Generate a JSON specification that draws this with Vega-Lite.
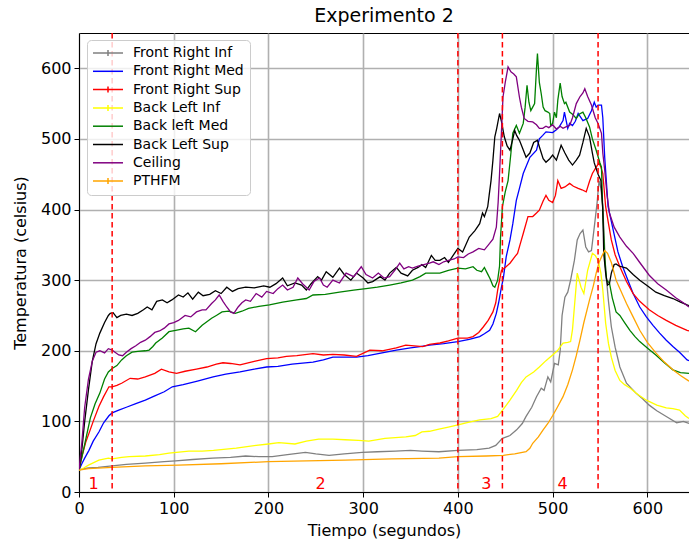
{
"$schema": "https://vega.github.io/schema/vega-lite/v6.json",
"width": 610, "height": 459,
"autosize": {"type": "none"},
"padding": {"left": 79, "top": 33, "right": 0, "bottom": 57},
"background": "white",
"title": {"text": "Experimento 2", "fontSize": 19, "font": "DejaVu Sans", "fontWeight": "normal", "color": "black", "offset": 6, "frame": "group", "anchor": "middle"},
"config": {
  "font": "DejaVu Sans",
  "view": {"stroke": "black", "strokeWidth": 1},
  "axis": {"labelFontSize": 16, "titleFontSize": 16, "titleFontWeight": "normal", "labelColor": "black", "titleColor": "black", "domainColor": "black", "tickColor": "black", "tickSize": 5, "labelPadding": 3, "gridColor": "#b0b0b0", "gridWidth": 1.6, "labelFlush": false, "labelOverlap": false, "titleFont": "DejaVu Sans", "labelFont": "DejaVu Sans"}
},
"layer": [
{
  "data": {"values": [
{"s":"Front Right Inf","t":0,"v":31},{"s":"Front Right Inf","t":5,"v":33},{"s":"Front Right Inf","t":10,"v":34},{"s":"Front Right Inf","t":20,"v":35},{"s":"Front Right Inf","t":35,"v":37},{"s":"Front Right Inf","t":50,"v":39},{"s":"Front Right Inf","t":70,"v":41},{"s":"Front Right Inf","t":90,"v":43},{"s":"Front Right Inf","t":102,"v":44},{"s":"Front Right Inf","t":120,"v":46},{"s":"Front Right Inf","t":141,"v":48},{"s":"Front Right Inf","t":160,"v":49},{"s":"Front Right Inf","t":176,"v":51},{"s":"Front Right Inf","t":190,"v":50},{"s":"Front Right Inf","t":204,"v":50},{"s":"Front Right Inf","t":220,"v":53},{"s":"Front Right Inf","t":239,"v":56},{"s":"Front Right Inf","t":250,"v":54},{"s":"Front Right Inf","t":264,"v":52},{"s":"Front Right Inf","t":280,"v":54},{"s":"Front Right Inf","t":299,"v":56},{"s":"Front Right Inf","t":315,"v":57},{"s":"Front Right Inf","t":334,"v":58},{"s":"Front Right Inf","t":350,"v":59},{"s":"Front Right Inf","t":362,"v":58},{"s":"Front Right Inf","t":380,"v":57},{"s":"Front Right Inf","t":400,"v":59},{"s":"Front Right Inf","t":420,"v":60},{"s":"Front Right Inf","t":433,"v":62},{"s":"Front Right Inf","t":440,"v":66},{"s":"Front Right Inf","t":447,"v":76},{"s":"Front Right Inf","t":455,"v":80},{"s":"Front Right Inf","t":462,"v":88},{"s":"Front Right Inf","t":468,"v":97},{"s":"Front Right Inf","t":472,"v":107},{"s":"Front Right Inf","t":478,"v":120},{"s":"Front Right Inf","t":483,"v":135},{"s":"Front Right Inf","t":488,"v":147},{"s":"Front Right Inf","t":491,"v":144},{"s":"Front Right Inf","t":495,"v":163},{"s":"Front Right Inf","t":498,"v":156},{"s":"Front Right Inf","t":502,"v":182},{"s":"Front Right Inf","t":506,"v":180},{"s":"Front Right Inf","t":508,"v":200},{"s":"Front Right Inf","t":510,"v":250},{"s":"Front Right Inf","t":513,"v":276},{"s":"Front Right Inf","t":516,"v":283},{"s":"Front Right Inf","t":519,"v":300},{"s":"Front Right Inf","t":523,"v":328},{"s":"Front Right Inf","t":526,"v":357},{"s":"Front Right Inf","t":529,"v":366},{"s":"Front Right Inf","t":532,"v":371},{"s":"Front Right Inf","t":535,"v":347},{"s":"Front Right Inf","t":538,"v":340},{"s":"Front Right Inf","t":541,"v":342},{"s":"Front Right Inf","t":544,"v":375},{"s":"Front Right Inf","t":547,"v":410},{"s":"Front Right Inf","t":549,"v":441},{"s":"Front Right Inf","t":551,"v":430},{"s":"Front Right Inf","t":553,"v":404},{"s":"Front Right Inf","t":556,"v":314},{"s":"Front Right Inf","t":559,"v":270},{"s":"Front Right Inf","t":562,"v":234},{"s":"Front Right Inf","t":566,"v":205},{"s":"Front Right Inf","t":571,"v":177},{"s":"Front Right Inf","t":578,"v":154},{"s":"Front Right Inf","t":588,"v":140},{"s":"Front Right Inf","t":595,"v":132},{"s":"Front Right Inf","t":602,"v":123},{"s":"Front Right Inf","t":610,"v":115},{"s":"Front Right Inf","t":620,"v":107},{"s":"Front Right Inf","t":631,"v":98},{"s":"Front Right Inf","t":638,"v":100},{"s":"Front Right Inf","t":644,"v":97},

{"s":"Front Right Med","t":0,"v":31},{"s":"Front Right Med","t":3,"v":40},{"s":"Front Right Med","t":6,"v":48},{"s":"Front Right Med","t":10.5,"v":59},{"s":"Front Right Med","t":15,"v":72},{"s":"Front Right Med","t":21,"v":85},{"s":"Front Right Med","t":26,"v":98},{"s":"Front Right Med","t":31.6,"v":108},{"s":"Front Right Med","t":35,"v":112},{"s":"Front Right Med","t":42,"v":116},{"s":"Front Right Med","t":50,"v":120},{"s":"Front Right Med","t":60,"v":125},{"s":"Front Right Med","t":70,"v":130},{"s":"Front Right Med","t":80,"v":136},{"s":"Front Right Med","t":90,"v":142},{"s":"Front Right Med","t":98.5,"v":149},{"s":"Front Right Med","t":110,"v":152},{"s":"Front Right Med","t":125,"v":157},{"s":"Front Right Med","t":141.6,"v":163},{"s":"Front Right Med","t":155,"v":167},{"s":"Front Right Med","t":170,"v":170},{"s":"Front Right Med","t":185,"v":174},{"s":"Front Right Med","t":198,"v":177},{"s":"Front Right Med","t":210,"v":178},{"s":"Front Right Med","t":225,"v":181},{"s":"Front Right Med","t":247,"v":184},{"s":"Front Right Med","t":258,"v":187},{"s":"Front Right Med","t":268,"v":191},{"s":"Front Right Med","t":280,"v":191},{"s":"Front Right Med","t":293,"v":191},{"s":"Front Right Med","t":305,"v":193},{"s":"Front Right Med","t":320,"v":197},{"s":"Front Right Med","t":335,"v":201},{"s":"Front Right Med","t":350,"v":204},{"s":"Front Right Med","t":360,"v":206},{"s":"Front Right Med","t":370,"v":208},{"s":"Front Right Med","t":385,"v":210},{"s":"Front Right Med","t":400,"v":213},{"s":"Front Right Med","t":412,"v":216},{"s":"Front Right Med","t":423,"v":220},{"s":"Front Right Med","t":428,"v":224},{"s":"Front Right Med","t":433.5,"v":229},{"s":"Front Right Med","t":437,"v":238},{"s":"Front Right Med","t":440.6,"v":253},{"s":"Front Right Med","t":443,"v":268},{"s":"Front Right Med","t":446,"v":290},{"s":"Front Right Med","t":448,"v":303},{"s":"Front Right Med","t":451,"v":333},{"s":"Front Right Med","t":455,"v":357},{"s":"Front Right Med","t":458,"v":380},{"s":"Front Right Med","t":461.7,"v":413},{"s":"Front Right Med","t":465,"v":430},{"s":"Front Right Med","t":469,"v":451},{"s":"Front Right Med","t":476,"v":474},{"s":"Front Right Med","t":483,"v":484},{"s":"Front Right Med","t":486,"v":500},{"s":"Front Right Med","t":489.6,"v":505},{"s":"Front Right Med","t":493,"v":510},{"s":"Front Right Med","t":500,"v":509},{"s":"Front Right Med","t":504,"v":513},{"s":"Front Right Med","t":507,"v":517},{"s":"Front Right Med","t":511,"v":526},{"s":"Front Right Med","t":512.5,"v":538},{"s":"Front Right Med","t":516,"v":515},{"s":"Front Right Med","t":518,"v":522},{"s":"Front Right Med","t":521,"v":519},{"s":"Front Right Med","t":524,"v":525},{"s":"Front Right Med","t":527,"v":536},{"s":"Front Right Med","t":532,"v":526},{"s":"Front Right Med","t":537,"v":529},{"s":"Front Right Med","t":541,"v":540},{"s":"Front Right Med","t":544,"v":552},{"s":"Front Right Med","t":546,"v":545},{"s":"Front Right Med","t":548,"v":548},{"s":"Front Right Med","t":551.6,"v":548},{"s":"Front Right Med","t":553,"v":530},{"s":"Front Right Med","t":555,"v":474},{"s":"Front Right Med","t":558.6,"v":404},{"s":"Front Right Med","t":564,"v":371},{"s":"Front Right Med","t":569,"v":340},{"s":"Front Right Med","t":574,"v":319},{"s":"Front Right Med","t":580,"v":298},{"s":"Front Right Med","t":585,"v":281},{"s":"Front Right Med","t":592,"v":262},{"s":"Front Right Med","t":599,"v":248},{"s":"Front Right Med","t":606,"v":236},{"s":"Front Right Med","t":613,"v":225},{"s":"Front Right Med","t":620,"v":215},{"s":"Front Right Med","t":627,"v":206},{"s":"Front Right Med","t":634,"v":198},{"s":"Front Right Med","t":642,"v":187},{"s":"Front Right Med","t":644,"v":186},

{"s":"Front Right Sup","t":0,"v":31},{"s":"Front Right Sup","t":3,"v":50},{"s":"Front Right Sup","t":7,"v":70},{"s":"Front Right Sup","t":10.5,"v":83},{"s":"Front Right Sup","t":15,"v":100},{"s":"Front Right Sup","t":21,"v":121},{"s":"Front Right Sup","t":26,"v":135},{"s":"Front Right Sup","t":31.6,"v":149},{"s":"Front Right Sup","t":35,"v":149},{"s":"Front Right Sup","t":40,"v":151},{"s":"Front Right Sup","t":45,"v":154},{"s":"Front Right Sup","t":54,"v":161},{"s":"Front Right Sup","t":62,"v":160},{"s":"Front Right Sup","t":70,"v":163},{"s":"Front Right Sup","t":80,"v":168},{"s":"Front Right Sup","t":87,"v":174},{"s":"Front Right Sup","t":95,"v":170},{"s":"Front Right Sup","t":103,"v":168},{"s":"Front Right Sup","t":112,"v":171},{"s":"Front Right Sup","t":124,"v":174},{"s":"Front Right Sup","t":135,"v":177},{"s":"Front Right Sup","t":145,"v":181},{"s":"Front Right Sup","t":152,"v":183},{"s":"Front Right Sup","t":160,"v":182},{"s":"Front Right Sup","t":170,"v":180},{"s":"Front Right Sup","t":185,"v":185},{"s":"Front Right Sup","t":198,"v":189},{"s":"Front Right Sup","t":210,"v":190},{"s":"Front Right Sup","t":219,"v":192},{"s":"Front Right Sup","t":230,"v":193},{"s":"Front Right Sup","t":247,"v":196},{"s":"Front Right Sup","t":258,"v":194},{"s":"Front Right Sup","t":268,"v":195},{"s":"Front Right Sup","t":280,"v":194},{"s":"Front Right Sup","t":293,"v":192},{"s":"Front Right Sup","t":307,"v":201},{"s":"Front Right Sup","t":320,"v":200},{"s":"Front Right Sup","t":335,"v":204},{"s":"Front Right Sup","t":345,"v":208},{"s":"Front Right Sup","t":363,"v":206},{"s":"Front Right Sup","t":370,"v":209},{"s":"Front Right Sup","t":381,"v":211},{"s":"Front Right Sup","t":390,"v":214},{"s":"Front Right Sup","t":400,"v":218},{"s":"Front Right Sup","t":410,"v":218},{"s":"Front Right Sup","t":416,"v":220},{"s":"Front Right Sup","t":422,"v":226},{"s":"Front Right Sup","t":427,"v":234},{"s":"Front Right Sup","t":432,"v":243},{"s":"Front Right Sup","t":437,"v":255},{"s":"Front Right Sup","t":440,"v":268},{"s":"Front Right Sup","t":442,"v":286},{"s":"Front Right Sup","t":444,"v":300},{"s":"Front Right Sup","t":446,"v":314},{"s":"Front Right Sup","t":450,"v":318},{"s":"Front Right Sup","t":455,"v":324},{"s":"Front Right Sup","t":460,"v":333},{"s":"Front Right Sup","t":463,"v":338},{"s":"Front Right Sup","t":466,"v":352},{"s":"Front Right Sup","t":469,"v":366},{"s":"Front Right Sup","t":474,"v":390},{"s":"Front Right Sup","t":479,"v":390},{"s":"Front Right Sup","t":483,"v":395},{"s":"Front Right Sup","t":486,"v":399},{"s":"Front Right Sup","t":490,"v":412},{"s":"Front Right Sup","t":493,"v":420},{"s":"Front Right Sup","t":496,"v":413},{"s":"Front Right Sup","t":500,"v":410},{"s":"Front Right Sup","t":503,"v":420},{"s":"Front Right Sup","t":505.5,"v":441},{"s":"Front Right Sup","t":509,"v":430},{"s":"Front Right Sup","t":513,"v":432},{"s":"Front Right Sup","t":518,"v":437},{"s":"Front Right Sup","t":522,"v":433},{"s":"Front Right Sup","t":527,"v":430},{"s":"Front Right Sup","t":531,"v":428},{"s":"Front Right Sup","t":535.5,"v":425},{"s":"Front Right Sup","t":539,"v":440},{"s":"Front Right Sup","t":542,"v":451},{"s":"Front Right Sup","t":546,"v":460},{"s":"Front Right Sup","t":549,"v":466},{"s":"Front Right Sup","t":551,"v":460},{"s":"Front Right Sup","t":553,"v":451},{"s":"Front Right Sup","t":556,"v":404},{"s":"Front Right Sup","t":559,"v":380},{"s":"Front Right Sup","t":562,"v":357},{"s":"Front Right Sup","t":566,"v":336},{"s":"Front Right Sup","t":571,"v":319},{"s":"Front Right Sup","t":578,"v":298},{"s":"Front Right Sup","t":585,"v":281},{"s":"Front Right Sup","t":592,"v":270},{"s":"Front Right Sup","t":602,"v":258},{"s":"Front Right Sup","t":611,"v":250},{"s":"Front Right Sup","t":620,"v":243},{"s":"Front Right Sup","t":630,"v":236},{"s":"Front Right Sup","t":642,"v":229},{"s":"Front Right Sup","t":644,"v":228},

{"s":"Back Left Inf","t":0,"v":31},{"s":"Back Left Inf","t":5,"v":34},{"s":"Back Left Inf","t":10,"v":38},{"s":"Back Left Inf","t":21,"v":45},{"s":"Back Left Inf","t":31,"v":48},{"s":"Back Left Inf","t":35,"v":47},{"s":"Back Left Inf","t":45,"v":49},{"s":"Back Left Inf","t":53,"v":50},{"s":"Back Left Inf","t":70,"v":51},{"s":"Back Left Inf","t":85,"v":53},{"s":"Back Left Inf","t":95,"v":55},{"s":"Back Left Inf","t":116,"v":58},{"s":"Back Left Inf","t":130,"v":58},{"s":"Back Left Inf","t":142,"v":59},{"s":"Back Left Inf","t":166,"v":62},{"s":"Back Left Inf","t":187,"v":66},{"s":"Back Left Inf","t":200,"v":68},{"s":"Back Left Inf","t":211,"v":70},{"s":"Back Left Inf","t":228,"v":68},{"s":"Back Left Inf","t":240,"v":72},{"s":"Back Left Inf","t":253,"v":75},{"s":"Back Left Inf","t":268,"v":75},{"s":"Back Left Inf","t":281,"v":74},{"s":"Back Left Inf","t":295,"v":73},{"s":"Back Left Inf","t":306,"v":72},{"s":"Back Left Inf","t":323,"v":76},{"s":"Back Left Inf","t":345,"v":78},{"s":"Back Left Inf","t":355,"v":80},{"s":"Back Left Inf","t":362,"v":85},{"s":"Back Left Inf","t":370,"v":86},{"s":"Back Left Inf","t":380,"v":89},{"s":"Back Left Inf","t":390,"v":92},{"s":"Back Left Inf","t":400,"v":95},{"s":"Back Left Inf","t":412,"v":99},{"s":"Back Left Inf","t":423,"v":102},{"s":"Back Left Inf","t":435,"v":104},{"s":"Back Left Inf","t":442,"v":107},{"s":"Back Left Inf","t":449,"v":119},{"s":"Back Left Inf","t":455,"v":130},{"s":"Back Left Inf","t":462,"v":144},{"s":"Back Left Inf","t":467,"v":155},{"s":"Back Left Inf","t":472,"v":163},{"s":"Back Left Inf","t":480,"v":170},{"s":"Back Left Inf","t":486,"v":177},{"s":"Back Left Inf","t":493,"v":186},{"s":"Back Left Inf","t":500,"v":194},{"s":"Back Left Inf","t":505,"v":200},{"s":"Back Left Inf","t":511,"v":211},{"s":"Back Left Inf","t":516,"v":212},{"s":"Back Left Inf","t":519,"v":213},{"s":"Back Left Inf","t":521,"v":230},{"s":"Back Left Inf","t":523,"v":262},{"s":"Back Left Inf","t":526,"v":310},{"s":"Back Left Inf","t":530,"v":290},{"s":"Back Left Inf","t":533,"v":281},{"s":"Back Left Inf","t":537,"v":314},{"s":"Back Left Inf","t":542,"v":338},{"s":"Back Left Inf","t":545,"v":335},{"s":"Back Left Inf","t":548,"v":328},{"s":"Back Left Inf","t":551,"v":310},{"s":"Back Left Inf","t":553,"v":286},{"s":"Back Left Inf","t":556,"v":239},{"s":"Back Left Inf","t":559,"v":210},{"s":"Back Left Inf","t":562,"v":191},{"s":"Back Left Inf","t":566,"v":172},{"s":"Back Left Inf","t":571,"v":158},{"s":"Back Left Inf","t":576,"v":152},{"s":"Back Left Inf","t":582,"v":147},{"s":"Back Left Inf","t":590,"v":138},{"s":"Back Left Inf","t":599,"v":130},{"s":"Back Left Inf","t":610,"v":123},{"s":"Back Left Inf","t":620,"v":119},{"s":"Back Left Inf","t":627,"v":118},{"s":"Back Left Inf","t":634,"v":116},{"s":"Back Left Inf","t":640,"v":108},{"s":"Back Left Inf","t":644,"v":104},

{"s":"Back left Med","t":0,"v":31},{"s":"Back left Med","t":4,"v":55},{"s":"Back left Med","t":8,"v":80},{"s":"Back left Med","t":12,"v":105},{"s":"Back left Med","t":17,"v":125},{"s":"Back left Med","t":22,"v":140},{"s":"Back left Med","t":27,"v":160},{"s":"Back left Med","t":31,"v":170},{"s":"Back left Med","t":35,"v":175},{"s":"Back left Med","t":40,"v":179},{"s":"Back left Med","t":45,"v":187},{"s":"Back left Med","t":50,"v":193},{"s":"Back left Med","t":56,"v":198},{"s":"Back left Med","t":62,"v":199},{"s":"Back left Med","t":70,"v":200},{"s":"Back left Med","t":74,"v":201},{"s":"Back left Med","t":78,"v":206},{"s":"Back left Med","t":81,"v":211},{"s":"Back left Med","t":88,"v":218},{"s":"Back left Med","t":95,"v":227},{"s":"Back left Med","t":102,"v":229},{"s":"Back left Med","t":110,"v":231},{"s":"Back left Med","t":116,"v":232},{"s":"Back left Med","t":123,"v":227},{"s":"Back left Med","t":130,"v":236},{"s":"Back left Med","t":140,"v":246},{"s":"Back left Med","t":145,"v":250},{"s":"Back left Med","t":151,"v":255},{"s":"Back left Med","t":158,"v":256},{"s":"Back left Med","t":165,"v":253},{"s":"Back left Med","t":172,"v":256},{"s":"Back left Med","t":179,"v":260},{"s":"Back left Med","t":190,"v":263},{"s":"Back left Med","t":201,"v":265},{"s":"Back left Med","t":215,"v":269},{"s":"Back left Med","t":230,"v":272},{"s":"Back left Med","t":240,"v":274},{"s":"Back left Med","t":247,"v":279},{"s":"Back left Med","t":260,"v":280},{"s":"Back left Med","t":275,"v":283},{"s":"Back left Med","t":290,"v":286},{"s":"Back left Med","t":303,"v":288},{"s":"Back left Med","t":315,"v":290},{"s":"Back left Med","t":328,"v":293},{"s":"Back left Med","t":340,"v":296},{"s":"Back left Med","t":352,"v":300},{"s":"Back left Med","t":360,"v":305},{"s":"Back left Med","t":366,"v":310},{"s":"Back left Med","t":375,"v":310},{"s":"Back left Med","t":381,"v":310},{"s":"Back left Med","t":390,"v":314},{"s":"Back left Med","t":400,"v":317},{"s":"Back left Med","t":408,"v":316},{"s":"Back left Med","t":416,"v":319},{"s":"Back left Med","t":420,"v":314},{"s":"Back left Med","t":425,"v":312},{"s":"Back left Med","t":428,"v":318},{"s":"Back left Med","t":431,"v":310},{"s":"Back left Med","t":434,"v":302},{"s":"Back left Med","t":437,"v":292},{"s":"Back left Med","t":439,"v":290},{"s":"Back left Med","t":442,"v":300},{"s":"Back left Med","t":444,"v":320},{"s":"Back left Med","t":445,"v":360},{"s":"Back left Med","t":447,"v":404},{"s":"Back left Med","t":450,"v":425},{"s":"Back left Med","t":453,"v":441},{"s":"Back left Med","t":456,"v":480},{"s":"Back left Med","t":458,"v":508},{"s":"Back left Med","t":461.7,"v":519},{"s":"Back left Med","t":465,"v":508},{"s":"Back left Med","t":469,"v":522},{"s":"Back left Med","t":471,"v":545},{"s":"Back left Med","t":473,"v":576},{"s":"Back left Med","t":475,"v":552},{"s":"Back left Med","t":477,"v":540},{"s":"Back left Med","t":479,"v":545},{"s":"Back left Med","t":481,"v":550},{"s":"Back left Med","t":483,"v":600},{"s":"Back left Med","t":484,"v":621},{"s":"Back left Med","t":486,"v":580},{"s":"Back left Med","t":488,"v":564},{"s":"Back left Med","t":490,"v":545},{"s":"Back left Med","t":492,"v":540},{"s":"Back left Med","t":495,"v":538},{"s":"Back left Med","t":497,"v":536},{"s":"Back left Med","t":498,"v":519},{"s":"Back left Med","t":500,"v":522},{"s":"Back left Med","t":502,"v":538},{"s":"Back left Med","t":504,"v":530},{"s":"Back left Med","t":505.5,"v":555},{"s":"Back left Med","t":508,"v":579},{"s":"Back left Med","t":510,"v":560},{"s":"Back left Med","t":512.5,"v":550},{"s":"Back left Med","t":514,"v":552},{"s":"Back left Med","t":518,"v":538},{"s":"Back left Med","t":521,"v":535},{"s":"Back left Med","t":525,"v":529},{"s":"Back left Med","t":528,"v":535},{"s":"Back left Med","t":532,"v":538},{"s":"Back left Med","t":535,"v":530},{"s":"Back left Med","t":539,"v":517},{"s":"Back left Med","t":542,"v":500},{"s":"Back left Med","t":546,"v":484},{"s":"Back left Med","t":550,"v":466},{"s":"Back left Med","t":551.6,"v":460},{"s":"Back left Med","t":553,"v":395},{"s":"Back left Med","t":555,"v":333},{"s":"Back left Med","t":557,"v":300},{"s":"Back left Med","t":560,"v":296},{"s":"Back left Med","t":563,"v":275},{"s":"Back left Med","t":567,"v":255},{"s":"Back left Med","t":571,"v":250},{"s":"Back left Med","t":576,"v":240},{"s":"Back left Med","t":581.6,"v":229},{"s":"Back left Med","t":587,"v":220},{"s":"Back left Med","t":592,"v":213},{"s":"Back left Med","t":600,"v":204},{"s":"Back left Med","t":609,"v":194},{"s":"Back left Med","t":618,"v":183},{"s":"Back left Med","t":627,"v":173},{"s":"Back left Med","t":635,"v":169},{"s":"Back left Med","t":644,"v":168},

{"s":"Back Left Sup","t":0,"v":31},{"s":"Back Left Sup","t":3,"v":60},{"s":"Back Left Sup","t":6,"v":100},{"s":"Back Left Sup","t":10,"v":145},{"s":"Back Left Sup","t":14,"v":185},{"s":"Back Left Sup","t":18,"v":210},{"s":"Back Left Sup","t":22,"v":225},{"s":"Back Left Sup","t":27,"v":240},{"s":"Back Left Sup","t":31,"v":250},{"s":"Back Left Sup","t":33,"v":253},{"s":"Back Left Sup","t":36,"v":254},{"s":"Back Left Sup","t":40,"v":247},{"s":"Back Left Sup","t":44,"v":250},{"s":"Back Left Sup","t":50,"v":252},{"s":"Back Left Sup","t":56,"v":250},{"s":"Back Left Sup","t":62,"v":253},{"s":"Back Left Sup","t":68,"v":258},{"s":"Back Left Sup","t":72,"v":262},{"s":"Back Left Sup","t":77,"v":258},{"s":"Back Left Sup","t":82,"v":270},{"s":"Back Left Sup","t":88,"v":272},{"s":"Back Left Sup","t":93,"v":268},{"s":"Back Left Sup","t":98,"v":272},{"s":"Back Left Sup","t":105,"v":279},{"s":"Back Left Sup","t":110,"v":276},{"s":"Back Left Sup","t":115,"v":282},{"s":"Back Left Sup","t":120,"v":273},{"s":"Back Left Sup","t":126,"v":283},{"s":"Back Left Sup","t":131,"v":278},{"s":"Back Left Sup","t":138,"v":280},{"s":"Back Left Sup","t":144,"v":285},{"s":"Back Left Sup","t":150,"v":281},{"s":"Back Left Sup","t":156,"v":290},{"s":"Back Left Sup","t":162,"v":284},{"s":"Back Left Sup","t":168,"v":288},{"s":"Back Left Sup","t":176,"v":290},{"s":"Back Left Sup","t":185,"v":289},{"s":"Back Left Sup","t":195,"v":292},{"s":"Back Left Sup","t":201.5,"v":290},{"s":"Back Left Sup","t":208,"v":295},{"s":"Back Left Sup","t":215,"v":303},{"s":"Back Left Sup","t":220,"v":292},{"s":"Back Left Sup","t":228,"v":296},{"s":"Back Left Sup","t":235,"v":293},{"s":"Back Left Sup","t":240,"v":286},{"s":"Back Left Sup","t":245,"v":295},{"s":"Back Left Sup","t":252,"v":305},{"s":"Back Left Sup","t":256,"v":300},{"s":"Back Left Sup","t":261,"v":312},{"s":"Back Left Sup","t":268,"v":304},{"s":"Back Left Sup","t":275,"v":317},{"s":"Back Left Sup","t":280,"v":308},{"s":"Back Left Sup","t":287,"v":300},{"s":"Back Left Sup","t":293,"v":310},{"s":"Back Left Sup","t":300,"v":303},{"s":"Back Left Sup","t":305,"v":296},{"s":"Back Left Sup","t":310,"v":298},{"s":"Back Left Sup","t":318,"v":305},{"s":"Back Left Sup","t":323,"v":300},{"s":"Back Left Sup","t":328,"v":310},{"s":"Back Left Sup","t":335,"v":318},{"s":"Back Left Sup","t":340,"v":310},{"s":"Back Left Sup","t":347,"v":306},{"s":"Back Left Sup","t":352,"v":314},{"s":"Back Left Sup","t":358,"v":318},{"s":"Back Left Sup","t":362,"v":322},{"s":"Back Left Sup","t":366,"v":318},{"s":"Back Left Sup","t":372,"v":335},{"s":"Back Left Sup","t":376,"v":328},{"s":"Back Left Sup","t":381,"v":328},{"s":"Back Left Sup","t":386,"v":332},{"s":"Back Left Sup","t":390,"v":325},{"s":"Back Left Sup","t":395,"v":335},{"s":"Back Left Sup","t":400,"v":345},{"s":"Back Left Sup","t":405,"v":340},{"s":"Back Left Sup","t":412,"v":361},{"s":"Back Left Sup","t":418,"v":370},{"s":"Back Left Sup","t":423,"v":380},{"s":"Back Left Sup","t":426,"v":395},{"s":"Back Left Sup","t":428,"v":390},{"s":"Back Left Sup","t":431.5,"v":404},{"s":"Back Left Sup","t":433,"v":420},{"s":"Back Left Sup","t":435,"v":441},{"s":"Back Left Sup","t":437,"v":470},{"s":"Back Left Sup","t":439,"v":503},{"s":"Back Left Sup","t":441,"v":515},{"s":"Back Left Sup","t":444,"v":536},{"s":"Back Left Sup","t":446,"v":525},{"s":"Back Left Sup","t":449,"v":503},{"s":"Back Left Sup","t":452,"v":490},{"s":"Back Left Sup","t":455,"v":484},{"s":"Back Left Sup","t":458,"v":500},{"s":"Back Left Sup","t":460,"v":512},{"s":"Back Left Sup","t":462,"v":505},{"s":"Back Left Sup","t":465,"v":498},{"s":"Back Left Sup","t":468,"v":488},{"s":"Back Left Sup","t":472,"v":474},{"s":"Back Left Sup","t":476,"v":480},{"s":"Back Left Sup","t":480,"v":495},{"s":"Back Left Sup","t":484,"v":498},{"s":"Back Left Sup","t":486,"v":489},{"s":"Back Left Sup","t":490,"v":472},{"s":"Back Left Sup","t":493,"v":467},{"s":"Back Left Sup","t":497,"v":472},{"s":"Back Left Sup","t":500,"v":477},{"s":"Back Left Sup","t":504,"v":470},{"s":"Back Left Sup","t":509,"v":491},{"s":"Back Left Sup","t":513,"v":480},{"s":"Back Left Sup","t":517,"v":470},{"s":"Back Left Sup","t":521,"v":463},{"s":"Back Left Sup","t":525,"v":470},{"s":"Back Left Sup","t":528.5,"v":477},{"s":"Back Left Sup","t":532,"v":495},{"s":"Back Left Sup","t":535.5,"v":515},{"s":"Back Left Sup","t":539,"v":503},{"s":"Back Left Sup","t":542,"v":480},{"s":"Back Left Sup","t":544,"v":466},{"s":"Back Left Sup","t":548,"v":450},{"s":"Back Left Sup","t":551,"v":441},{"s":"Back Left Sup","t":553,"v":400},{"s":"Back Left Sup","t":554,"v":338},{"s":"Back Left Sup","t":556,"v":310},{"s":"Back Left Sup","t":558,"v":293},{"s":"Back Left Sup","t":560,"v":295},{"s":"Back Left Sup","t":562,"v":310},{"s":"Back Left Sup","t":565,"v":322},{"s":"Back Left Sup","t":567,"v":323},{"s":"Back Left Sup","t":570,"v":320},{"s":"Back Left Sup","t":578,"v":317},{"s":"Back Left Sup","t":585,"v":308},{"s":"Back Left Sup","t":592,"v":300},{"s":"Back Left Sup","t":600,"v":292},{"s":"Back Left Sup","t":609,"v":283},{"s":"Back Left Sup","t":618,"v":278},{"s":"Back Left Sup","t":627,"v":274},{"s":"Back Left Sup","t":635,"v":269},{"s":"Back Left Sup","t":642,"v":265},{"s":"Back Left Sup","t":644,"v":264},

{"s":"Ceiling","t":0,"v":31},{"s":"Ceiling","t":3,"v":70},{"s":"Ceiling","t":6,"v":120},{"s":"Ceiling","t":10,"v":160},{"s":"Ceiling","t":14,"v":185},{"s":"Ceiling","t":18,"v":198},{"s":"Ceiling","t":22,"v":200},{"s":"Ceiling","t":27,"v":197},{"s":"Ceiling","t":31,"v":203},{"s":"Ceiling","t":35,"v":201},{"s":"Ceiling","t":38,"v":198},{"s":"Ceiling","t":42,"v":194},{"s":"Ceiling","t":46,"v":193},{"s":"Ceiling","t":50,"v":198},{"s":"Ceiling","t":55,"v":203},{"s":"Ceiling","t":60,"v":207},{"s":"Ceiling","t":65,"v":212},{"s":"Ceiling","t":70,"v":215},{"s":"Ceiling","t":75,"v":220},{"s":"Ceiling","t":80,"v":226},{"s":"Ceiling","t":85,"v":228},{"s":"Ceiling","t":90,"v":232},{"s":"Ceiling","t":95,"v":238},{"s":"Ceiling","t":100,"v":240},{"s":"Ceiling","t":105,"v":243},{"s":"Ceiling","t":112,"v":250},{"s":"Ceiling","t":118,"v":248},{"s":"Ceiling","t":124,"v":255},{"s":"Ceiling","t":130,"v":258},{"s":"Ceiling","t":134,"v":258},{"s":"Ceiling","t":140,"v":267},{"s":"Ceiling","t":144,"v":272},{"s":"Ceiling","t":148,"v":279},{"s":"Ceiling","t":152,"v":270},{"s":"Ceiling","t":156,"v":262},{"s":"Ceiling","t":160,"v":255},{"s":"Ceiling","t":163.5,"v":253},{"s":"Ceiling","t":168,"v":262},{"s":"Ceiling","t":172,"v":268},{"s":"Ceiling","t":176,"v":272},{"s":"Ceiling","t":181,"v":270},{"s":"Ceiling","t":187,"v":281},{"s":"Ceiling","t":193,"v":276},{"s":"Ceiling","t":198,"v":284},{"s":"Ceiling","t":205,"v":281},{"s":"Ceiling","t":210,"v":288},{"s":"Ceiling","t":215,"v":293},{"s":"Ceiling","t":220,"v":286},{"s":"Ceiling","t":226,"v":290},{"s":"Ceiling","t":231,"v":303},{"s":"Ceiling","t":236,"v":295},{"s":"Ceiling","t":243,"v":286},{"s":"Ceiling","t":248,"v":298},{"s":"Ceiling","t":254,"v":303},{"s":"Ceiling","t":258,"v":293},{"s":"Ceiling","t":262,"v":290},{"s":"Ceiling","t":268,"v":300},{"s":"Ceiling","t":275,"v":296},{"s":"Ceiling","t":282,"v":310},{"s":"Ceiling","t":290,"v":305},{"s":"Ceiling","t":298,"v":319},{"s":"Ceiling","t":303,"v":308},{"s":"Ceiling","t":310,"v":303},{"s":"Ceiling","t":316,"v":310},{"s":"Ceiling","t":322,"v":303},{"s":"Ceiling","t":328,"v":305},{"s":"Ceiling","t":334,"v":315},{"s":"Ceiling","t":338.6,"v":324},{"s":"Ceiling","t":343,"v":316},{"s":"Ceiling","t":348,"v":319},{"s":"Ceiling","t":352,"v":317},{"s":"Ceiling","t":358,"v":320},{"s":"Ceiling","t":364,"v":322},{"s":"Ceiling","t":370,"v":324},{"s":"Ceiling","t":374,"v":326},{"s":"Ceiling","t":380,"v":322},{"s":"Ceiling","t":385,"v":326},{"s":"Ceiling","t":390,"v":328},{"s":"Ceiling","t":396,"v":330},{"s":"Ceiling","t":400,"v":333},{"s":"Ceiling","t":406,"v":332},{"s":"Ceiling","t":411,"v":337},{"s":"Ceiling","t":416,"v":340},{"s":"Ceiling","t":422,"v":345},{"s":"Ceiling","t":428,"v":343},{"s":"Ceiling","t":433.5,"v":352},{"s":"Ceiling","t":437,"v":358},{"s":"Ceiling","t":440.6,"v":375},{"s":"Ceiling","t":442.5,"v":410},{"s":"Ceiling","t":444,"v":451},{"s":"Ceiling","t":446,"v":510},{"s":"Ceiling","t":447.6,"v":559},{"s":"Ceiling","t":450,"v":580},{"s":"Ceiling","t":453,"v":602},{"s":"Ceiling","t":456,"v":595},{"s":"Ceiling","t":459,"v":592},{"s":"Ceiling","t":461.7,"v":588},{"s":"Ceiling","t":465,"v":559},{"s":"Ceiling","t":467,"v":545},{"s":"Ceiling","t":470,"v":529},{"s":"Ceiling","t":474,"v":525},{"s":"Ceiling","t":479,"v":524},{"s":"Ceiling","t":483,"v":520},{"s":"Ceiling","t":486,"v":515},{"s":"Ceiling","t":489.6,"v":515},{"s":"Ceiling","t":493,"v":518},{"s":"Ceiling","t":496,"v":516},{"s":"Ceiling","t":500,"v":520},{"s":"Ceiling","t":504,"v":514},{"s":"Ceiling","t":508,"v":518},{"s":"Ceiling","t":511,"v":515},{"s":"Ceiling","t":514,"v":517},{"s":"Ceiling","t":518,"v":519},{"s":"Ceiling","t":521,"v":530},{"s":"Ceiling","t":525,"v":550},{"s":"Ceiling","t":529,"v":560},{"s":"Ceiling","t":532,"v":565},{"s":"Ceiling","t":534,"v":571},{"s":"Ceiling","t":537,"v":560},{"s":"Ceiling","t":541,"v":548},{"s":"Ceiling","t":545,"v":530},{"s":"Ceiling","t":548,"v":522},{"s":"Ceiling","t":551.6,"v":508},{"s":"Ceiling","t":553,"v":480},{"s":"Ceiling","t":555,"v":456},{"s":"Ceiling","t":557.5,"v":420},{"s":"Ceiling","t":560,"v":395},{"s":"Ceiling","t":565,"v":375},{"s":"Ceiling","t":571,"v":361},{"s":"Ceiling","t":578,"v":348},{"s":"Ceiling","t":585,"v":338},{"s":"Ceiling","t":592,"v":325},{"s":"Ceiling","t":602,"v":307},{"s":"Ceiling","t":611,"v":295},{"s":"Ceiling","t":620,"v":286},{"s":"Ceiling","t":630,"v":275},{"s":"Ceiling","t":638,"v":268},{"s":"Ceiling","t":644,"v":262},

{"s":"PTHFM","t":0,"v":31},{"s":"PTHFM","t":10,"v":33},{"s":"PTHFM","t":35,"v":35},{"s":"PTHFM","t":70,"v":37},{"s":"PTHFM","t":105,"v":38},{"s":"PTHFM","t":150,"v":40},{"s":"PTHFM","t":200,"v":43},{"s":"PTHFM","t":240,"v":44},{"s":"PTHFM","t":281,"v":45},{"s":"PTHFM","t":330,"v":47},{"s":"PTHFM","t":380,"v":48},{"s":"PTHFM","t":400,"v":50},{"s":"PTHFM","t":430,"v":51},{"s":"PTHFM","t":448,"v":52},{"s":"PTHFM","t":460,"v":54},{"s":"PTHFM","t":472,"v":57},{"s":"PTHFM","t":476,"v":62},{"s":"PTHFM","t":479,"v":69},{"s":"PTHFM","t":485,"v":78},{"s":"PTHFM","t":490,"v":88},{"s":"PTHFM","t":495,"v":97},{"s":"PTHFM","t":500,"v":108},{"s":"PTHFM","t":505,"v":120},{"s":"PTHFM","t":511,"v":135},{"s":"PTHFM","t":516,"v":152},{"s":"PTHFM","t":521,"v":173},{"s":"PTHFM","t":525,"v":193},{"s":"PTHFM","t":528.5,"v":213},{"s":"PTHFM","t":533,"v":240},{"s":"PTHFM","t":539,"v":272},{"s":"PTHFM","t":543,"v":292},{"s":"PTHFM","t":546,"v":310},{"s":"PTHFM","t":549,"v":325},{"s":"PTHFM","t":552,"v":334},{"s":"PTHFM","t":555,"v":342},{"s":"PTHFM","t":558,"v":338},{"s":"PTHFM","t":562,"v":325},{"s":"PTHFM","t":567,"v":300},{"s":"PTHFM","t":572,"v":285},{"s":"PTHFM","t":578,"v":267},{"s":"PTHFM","t":585,"v":248},{"s":"PTHFM","t":592,"v":229},{"s":"PTHFM","t":600,"v":212},{"s":"PTHFM","t":609,"v":197},{"s":"PTHFM","t":618,"v":184},{"s":"PTHFM","t":627,"v":173},{"s":"PTHFM","t":635,"v":165},{"s":"PTHFM","t":644,"v":157}
  ]},
  "mark": {"type": "line", "strokeWidth": 1.3, "clip": true},
  "encoding": {
    "x": {"field": "t", "type": "quantitative", "scale": {"domain": [0, 644], "nice": false, "zero": false}, "axis": {"title": "Tiempo (segundos)", "values": [0,100,200,300,400,500,600], "grid": true, "titlePadding": 6}},
    "y": {"field": "v", "type": "quantitative", "scale": {"domain": [0, 650], "nice": false}, "axis": {"title": "Temperatura (celsius)", "values": [0,100,200,300,400,500,600], "grid": true, "titlePadding": 12}},
    "color": {"field": "s", "type": "nominal", "sort": null,
      "scale": {"domain": ["Front Right Inf","Front Right Med","Front Right Sup","Back Left Inf","Back left Med","Back Left Sup","Ceiling","PTHFM"], "range": ["gray","blue","red","yellow","green","black","purple","orange"]},
      "legend": {"title": null, "orient": "none", "legendX": 8, "legendY": 7, "direction": "vertical", "labelFontSize": 14, "labelColor": "black", "labelFont": "DejaVu Sans", "fillColor": "rgba(255,255,255,0.8)", "strokeColor": "#cccccc", "cornerRadius": 4, "padding": 6, "rowPadding": 4.3, "symbolSize": 100, "symbolStrokeWidth": 1.5, "symbolOffset": 8, "labelOffset": 18, "symbolType": "M-3,0H3",
        "encode": {"symbols": {"update": {"shape": [{"test": "indexof(['Front Right Inf','Front Right Sup','Back Left Inf','PTHFM'], datum.value) >= 0", "value": "M-3,0H3M0,-0.6V0.6"}, {"value": "M-3,0H3"}]}}}}
    }
  }
},
{
  "data": {"values": [{"t": 35}, {"t": 400}, {"t": 447}, {"t": 548}]},
  "mark": {"type": "rule", "color": "red", "strokeWidth": 1.5, "strokeDash": [5.5, 3.5]},
  "encoding": {"x": {"field": "t", "type": "quantitative", "scale": {"domain": [0, 644], "nice": false, "zero": false}, "axis": {"title": "Tiempo (segundos)", "values": [0,100,200,300,400,500,600], "grid": true, "titlePadding": 6}}}
},
{
  "data": {"values": [{"t": 15.5, "v": 12, "n": "1"}, {"t": 255, "v": 12, "n": "2"}, {"t": 430, "v": 12, "n": "3"}, {"t": 510.5, "v": 12, "n": "4"}]},
  "mark": {"type": "text", "color": "red", "fontSize": 16, "font": "DejaVu Sans", "baseline": "middle", "align": "center"},
  "encoding": {
    "x": {"field": "t", "type": "quantitative", "scale": {"domain": [0, 644], "nice": false, "zero": false}, "axis": {"title": "Tiempo (segundos)", "values": [0,100,200,300,400,500,600], "grid": true, "titlePadding": 6}},
    "y": {"field": "v", "type": "quantitative", "scale": {"domain": [0, 650], "nice": false}, "axis": {"title": "Temperatura (celsius)", "values": [0,100,200,300,400,500,600], "grid": true, "titlePadding": 12}},
    "text": {"field": "n"}
  }
}
]
}
